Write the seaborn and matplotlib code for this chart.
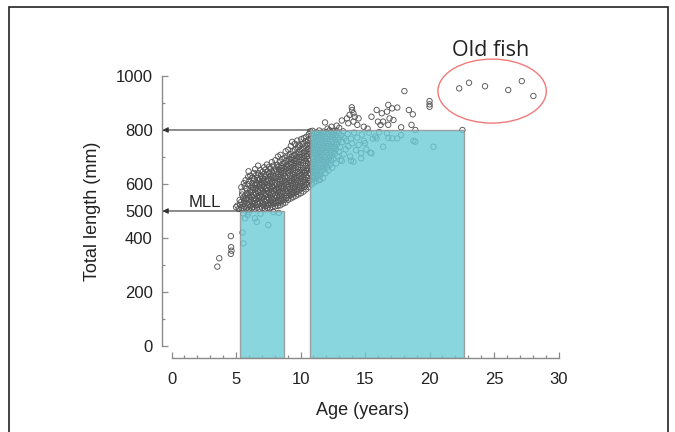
import pandas as pd
import seaborn as sns
import matplotlib
matplotlib.use("Agg")
import matplotlib.pyplot as plt
from matplotlib.patches import Ellipse, Rectangle

# age (years), total length (mm)
young_fish = [(3.55, 294), (3.70, 325), (4.60, 407), (4.62, 366), (4.65, 353), (4.60, 341),
              (5.00, 514), (5.10, 520), (5.50, 420), (5.57, 380), (5.57, 491), (5.70, 473),
              (6.47, 473), (6.60, 460), (7.50, 448), (6.00, 495), (6.90, 490), (7.90, 496),
              (8.30, 493), (5.90, 485)]

mid_fish = [(5.22, 508), (5.31, 523), (5.28, 541), (5.43, 512), (5.38, 533), (5.47, 561), (5.41, 588),
            (5.52, 506), (5.58, 527), (5.55, 549), (5.49, 572), (5.61, 603), (5.66, 516), (5.63, 538),
            (5.71, 557), (5.68, 592), (5.74, 614), (5.79, 509), (5.83, 529), (5.77, 546), (5.86, 566),
            (5.81, 583), (5.92, 521), (5.88, 543), (5.95, 561), (5.91, 599), (5.94, 626), (5.97, 647),
            (6.03, 506), (6.06, 532), (6.01, 553), (6.08, 576), (6.04, 611), (6.12, 518), (6.16, 540),
            (6.14, 568), (6.19, 589), (6.11, 631), (6.23, 509), (6.27, 527), (6.21, 551), (6.29, 578),
            (6.26, 602), (6.24, 622), (6.33, 515), (6.36, 538), (6.38, 559), (6.31, 586), (6.35, 612),
            (6.39, 641), (6.42, 507), (6.47, 529), (6.44, 547), (6.49, 569), (6.46, 596), (6.41, 619),
            (6.48, 655), (6.53, 521), (6.57, 543), (6.55, 563), (6.52, 584), (6.58, 604), (6.56, 633),
            (6.62, 512), (6.66, 534), (6.64, 556), (6.69, 575), (6.61, 598), (6.67, 623), (6.71, 668),
            (6.74, 525), (6.77, 548), (6.73, 569), (6.79, 591), (6.76, 613), (6.72, 640), (6.83, 508),
            (6.87, 531), (6.85, 553), (6.89, 577), (6.81, 600), (6.86, 618), (6.88, 651), (6.93, 517),
            (6.97, 539), (6.95, 562), (6.91, 585), (6.99, 606), (6.94, 630), (7.03, 511), (7.06, 528),
            (7.04, 552), (7.09, 574), (7.01, 597), (7.07, 621), (7.05, 645), (7.12, 520), (7.16, 543),
            (7.14, 566), (7.19, 589), (7.11, 611), (7.17, 637), (7.18, 662), (7.23, 509), (7.27, 533),
            (7.24, 557), (7.29, 579), (7.21, 602), (7.26, 626), (7.28, 653), (7.34, 519), (7.37, 541),
            (7.32, 563), (7.38, 586), (7.36, 609), (7.33, 634), (7.39, 672), (7.43, 512), (7.47, 529),
            (7.45, 551), (7.41, 575), (7.48, 596), (7.44, 620), (7.46, 646), (7.52, 522), (7.57, 544),
            (7.54, 567), (7.59, 590), (7.51, 613), (7.56, 639), (7.58, 664), (7.63, 511), (7.66, 536),
            (7.64, 558), (7.69, 581), (7.61, 604), (7.67, 629), (7.68, 655), (7.73, 524), (7.77, 547),
            (7.74, 570), (7.79, 593), (7.71, 617), (7.76, 643), (7.78, 681), (7.83, 514), (7.86, 538),
            (7.84, 561), (7.89, 584), (7.81, 607), (7.87, 631), (7.88, 668), (7.93, 526), (7.97, 549),
            (7.94, 573), (7.99, 596), (7.91, 621), (7.96, 649), (8.03, 517), (8.06, 537), (8.04, 559),
            (8.09, 582), (8.01, 606), (8.07, 628), (8.08, 657), (8.05, 688), (8.13, 529), (8.17, 553),
            (8.14, 576), (8.19, 599), (8.11, 621), (8.16, 646), (8.18, 671), (8.23, 519), (8.27, 541),
            (8.24, 566), (8.29, 589), (8.21, 612), (8.26, 637), (8.28, 664), (8.25, 702), (8.33, 531),
            (8.37, 556), (8.34, 579), (8.39, 601), (8.31, 626), (8.36, 651), (8.38, 683), (8.43, 521),
            (8.47, 546), (8.44, 569), (8.49, 592), (8.41, 616), (8.46, 643), (8.48, 669), (8.45, 708),
            (8.53, 536), (8.57, 561), (8.54, 586), (8.59, 609), (8.51, 633), (8.56, 659), (8.58, 692),
            (8.63, 527), (8.67, 551), (8.64, 573), (8.69, 599), (8.61, 623), (8.66, 649), (8.68, 676),
            (8.73, 541), (8.77, 566), (8.74, 591), (8.79, 613), (8.71, 639), (8.76, 664), (8.78, 697),
            (8.83, 531), (8.87, 557), (8.84, 581), (8.89, 606), (8.81, 629), (8.86, 656), (8.88, 686),
            (8.85, 721), (8.93, 549), (8.97, 573), (8.94, 598), (8.99, 621), (8.91, 646), (8.96, 671),
            (8.98, 703), (9.03, 541), (9.07, 566), (9.04, 589), (9.09, 613), (9.01, 641), (9.06, 666),
            (9.08, 692), (9.05, 727), (9.13, 556), (9.17, 581), (9.14, 606), (9.19, 631), (9.11, 653),
            (9.16, 679), (9.18, 711), (9.23, 546), (9.27, 571), (9.24, 596), (9.29, 621), (9.21, 646),
            (9.26, 673), (9.28, 699), (9.25, 741), (9.33, 561), (9.37, 586), (9.34, 611), (9.39, 636),
            (9.31, 661), (9.36, 689), (9.38, 721), (9.35, 756), (9.43, 551), (9.47, 576), (9.44, 601),
            (9.49, 626), (9.41, 651), (9.46, 679), (9.48, 706), (9.53, 566), (9.57, 591), (9.54, 616),
            (9.59, 641), (9.51, 666), (9.56, 693), (9.58, 726), (9.55, 749), (9.63, 556), (9.67, 581),
            (9.64, 606), (9.69, 631), (9.61, 659), (9.66, 686), (9.68, 713), (9.73, 571), (9.77, 596),
            (9.74, 621), (9.79, 646), (9.71, 673), (9.76, 701), (9.78, 736), (9.75, 761), (9.83, 561),
            (9.87, 589), (9.84, 613), (9.89, 639), (9.81, 663), (9.86, 691), (9.88, 719), (9.85, 746),
            (9.93, 579), (9.97, 603), (9.94, 629), (9.99, 653), (9.91, 681), (9.96, 709), (9.98, 741),
            (10.03, 566), (10.07, 593), (10.04, 619), (10.09, 646), (10.01, 671), (10.06, 699),
            (10.08, 729), (10.05, 766), (10.13, 585), (10.17, 610), (10.14, 635), (10.19, 660),
            (10.11, 688), (10.16, 715), (10.18, 748), (10.23, 572), (10.27, 598), (10.24, 625),
            (10.29, 650), (10.21, 678), (10.26, 705), (10.28, 735), (10.25, 770), (10.33, 590),
            (10.37, 615), (10.34, 642), (10.39, 668), (10.31, 695), (10.36, 722), (10.38, 758),
            (10.43, 580), (10.47, 605), (10.44, 632), (10.49, 658), (10.41, 685), (10.46, 712),
            (10.48, 745), (10.45, 775), (10.53, 598), (10.57, 622), (10.54, 650), (10.59, 676),
            (10.51, 702), (10.56, 730), (10.58, 762), (10.63, 588), (10.67, 612), (10.64, 640),
            (10.69, 665), (10.61, 692), (10.66, 720), (10.68, 752), (10.65, 785)]

adult_fish = [(10.72, 612), (10.75, 638), (10.78, 661), (10.74, 688), (10.77, 712), (10.73, 741),
              (10.79, 768), (10.76, 795), (10.84, 598), (10.88, 625), (10.82, 650), (10.86, 676),
              (10.89, 701), (10.83, 727), (10.87, 752), (10.85, 779), (10.94, 615), (10.97, 642),
              (10.92, 668), (10.99, 693), (10.95, 719), (10.91, 744), (10.98, 770), (10.93, 797),
              (11.04, 605), (11.08, 631), (11.02, 657), (11.06, 683), (11.09, 708), (11.03, 735),
              (11.07, 760), (11.05, 786), (11.14, 622), (11.17, 648), (11.12, 673), (11.19, 699),
              (11.15, 725), (11.11, 750), (11.18, 776), (11.23, 610), (11.27, 636), (11.22, 662),
              (11.26, 688), (11.29, 714), (11.24, 739), (11.28, 765), (11.25, 791), (11.34, 628),
              (11.37, 653), (11.32, 679), (11.39, 705), (11.35, 730), (11.31, 757), (11.38, 782),
              (11.44, 616), (11.48, 642), (11.42, 668), (11.46, 694), (11.49, 720), (11.43, 746),
              (11.47, 772), (11.45, 798), (11.54, 634), (11.57, 660), (11.52, 686), (11.59, 711),
              (11.55, 737), (11.51, 763), (11.58, 789), (11.64, 648), (11.68, 674), (11.62, 700),
              (11.66, 726), (11.69, 752), (11.63, 778), (11.74, 622), (11.77, 664), (11.72, 691),
              (11.79, 717), (11.75, 743), (11.71, 769), (11.78, 794), (11.84, 655), (11.88, 681),
              (11.82, 707), (11.86, 733), (11.89, 759), (11.83, 785), (11.94, 640), (11.97, 672),
              (11.92, 698), (11.99, 724), (11.95, 750), (11.91, 776), (12.05, 662), (12.08, 689),
              (12.03, 715), (12.09, 741), (12.06, 767), (12.02, 792), (12.16, 650), (12.14, 680),
              (12.19, 706), (12.12, 732), (12.17, 758), (12.15, 784), (12.26, 671), (12.24, 697),
              (12.29, 723), (12.22, 749), (12.27, 775), (12.25, 799), (12.36, 688), (12.33, 714),
              (12.38, 740), (12.31, 766), (12.35, 791), (12.46, 660), (12.44, 705), (12.49, 731),
              (12.42, 757), (12.47, 783), (12.56, 694), (12.53, 722), (12.58, 748), (12.51, 774),
              (12.55, 797), (12.66, 712), (12.64, 738), (12.69, 764), (12.62, 789), (12.76, 676),
              (12.73, 729), (12.78, 755), (12.71, 781), (12.86, 702), (12.83, 746), (12.88, 772),
              (12.81, 796), (12.96, 720), (12.93, 763), (12.98, 788), (13.10, 690), (13.20, 685),
              (13.05, 737), (13.15, 779), (13.25, 755), (13.35, 710), (13.40, 770), (13.30, 795),
              (13.50, 728), (13.55, 760), (13.65, 785), (13.70, 740), (13.85, 702), (13.90, 768),
              (14.00, 750), (14.10, 683), (14.15, 790), (14.30, 725), (14.40, 772), (14.50, 745),
              (14.70, 695), (14.75, 783), (14.90, 760), (15.00, 751), (15.10, 728), (15.30, 790),
              (15.50, 714), (15.60, 768), (15.80, 776), (15.90, 769), (16.10, 792), (16.40, 738),
              (16.70, 788), (16.80, 771), (17.10, 769), (17.50, 769), (17.80, 781), (18.90, 800),
              (18.90, 757), (20.30, 738), (22.55, 800), (11.50, 615), (13.90, 686), (14.70, 714),
              (15.40, 716), (18.75, 760),
              (11.90, 828), (12.40, 812), (12.80, 816), (13.20, 835), (13.60, 843), (13.80, 856),
              (14.10, 862), (13.70, 825), (14.10, 831), (14.40, 819), (14.50, 843), (14.90, 812),
              (14.20, 849), (13.97, 884), (14.00, 874), (15.50, 849), (15.90, 874), (16.30, 862),
              (16.70, 868), (16.00, 831), (16.40, 831), (16.90, 843), (16.80, 893), (17.10, 880),
              (17.50, 883), (17.20, 837), (16.20, 819), (16.80, 819), (18.40, 874), (18.70, 858),
              (18.60, 819), (18.05, 944), (20.00, 907), (20.00, 895), (20.00, 886), (12.10, 805),
              (13.00, 808), (15.20, 805), (17.80, 810)]

old_fish = [(22.30, 954), (23.06, 975), (24.30, 962), (26.10, 948), (27.15, 981), (28.05, 926)]

# age classes shaded in the plot: start, end, length limit
box_start = [5.3, 10.7]
box_end = [8.7, 22.7]
box_top = [500, 800]
box_text = ["MLL", ""]

df = pd.DataFrame(young_fish + mid_fish + adult_fish + old_fish, columns=["age", "length"])

plt.rcParams["font.family"] = ["Liberation Sans", "DejaVu Sans"]

ylo = -45.6
txt = "#222222"
axcol = "#8a8a8a"

fig = plt.figure(figsize=(6.75, 4.32), dpi=100)
ax = fig.add_axes([0.2396, 0.1706, 0.607, 0.716])

sns.scatterplot(data=df, x="age", y="length", ax=ax, s=15, facecolor="none",
                edgecolor="#555555", linewidth=0.65, zorder=1, legend=False)

ax.bar(box_start, [t - ylo for t in box_top], bottom=ylo,
       width=[e - s for s, e in zip(box_start, box_end)], align="edge",
       color="#6dccd8", alpha=0.8, edgecolor="#8f8f8f", linewidth=1.0, zorder=2)

for s, t, lab in zip(box_start, box_top, box_text):
    ax.annotate("", xy=(-0.7, t), xytext=(s, t),
                arrowprops=dict(arrowstyle="-|>", color="#333333", lw=0.8,
                                mutation_scale=8, shrinkA=0, shrinkB=0), zorder=3)
    if lab:
        ax.text(1.35, t + 5, lab, fontsize=12, color=txt, ha="left", va="bottom")

ax.add_patch(Ellipse((24.85, 944), 8.4, 237, fill=False, edgecolor="#f07a7a",
                     linewidth=1.0, clip_on=False, zorder=3))
ax.text(24.7, 1073, "Old fish", fontsize=15.5, color=txt, ha="center", va="baseline",
        family=["Open Sans", "DejaVu Sans"])

ax.set_xlim(-0.76, 31)
ax.set_ylim(ylo, 1100)
ax.set_xticks(range(0, 31, 5))
ax.set_xticks(range(0, 31), minor=True)
ax.set_yticks([0, 200, 400, 500, 600, 800, 1000])
ax.set_yticks([100, 300, 700, 900], minor=True)

sns.despine(ax=ax)
ax.spines["bottom"].set_bounds(0, 30)
ax.spines["left"].set_bounds(0, 1000)
for sp in ["bottom", "left"]:
    ax.spines[sp].set_color(axcol)
    ax.spines[sp].set_linewidth(1.0)

ax.tick_params(axis="both", which="both", direction="in", color=axcol, labelcolor=txt,
               labelsize=12, width=0.9)
ax.tick_params(axis="both", which="major", length=4)
ax.tick_params(axis="both", which="minor", length=2.5)
ax.tick_params(axis="x", pad=10)
ax.tick_params(axis="y", pad=6.5)

ax.set_xlabel("Age (years)", fontsize=13, color=txt)
ax.set_ylabel("Total length (mm)", fontsize=13, color=txt)
ax.xaxis.set_label_coords(0.49, -0.14)
ax.yaxis.set_label_coords(-0.148, 0.475)

fig.add_artist(Rectangle((9 / 675, -0.05), 659 / 675, 1.0338, transform=fig.transFigure,
                         fill=False, edgecolor="#222222", linewidth=1.2))

fig.savefig("out.png", dpi=100)
